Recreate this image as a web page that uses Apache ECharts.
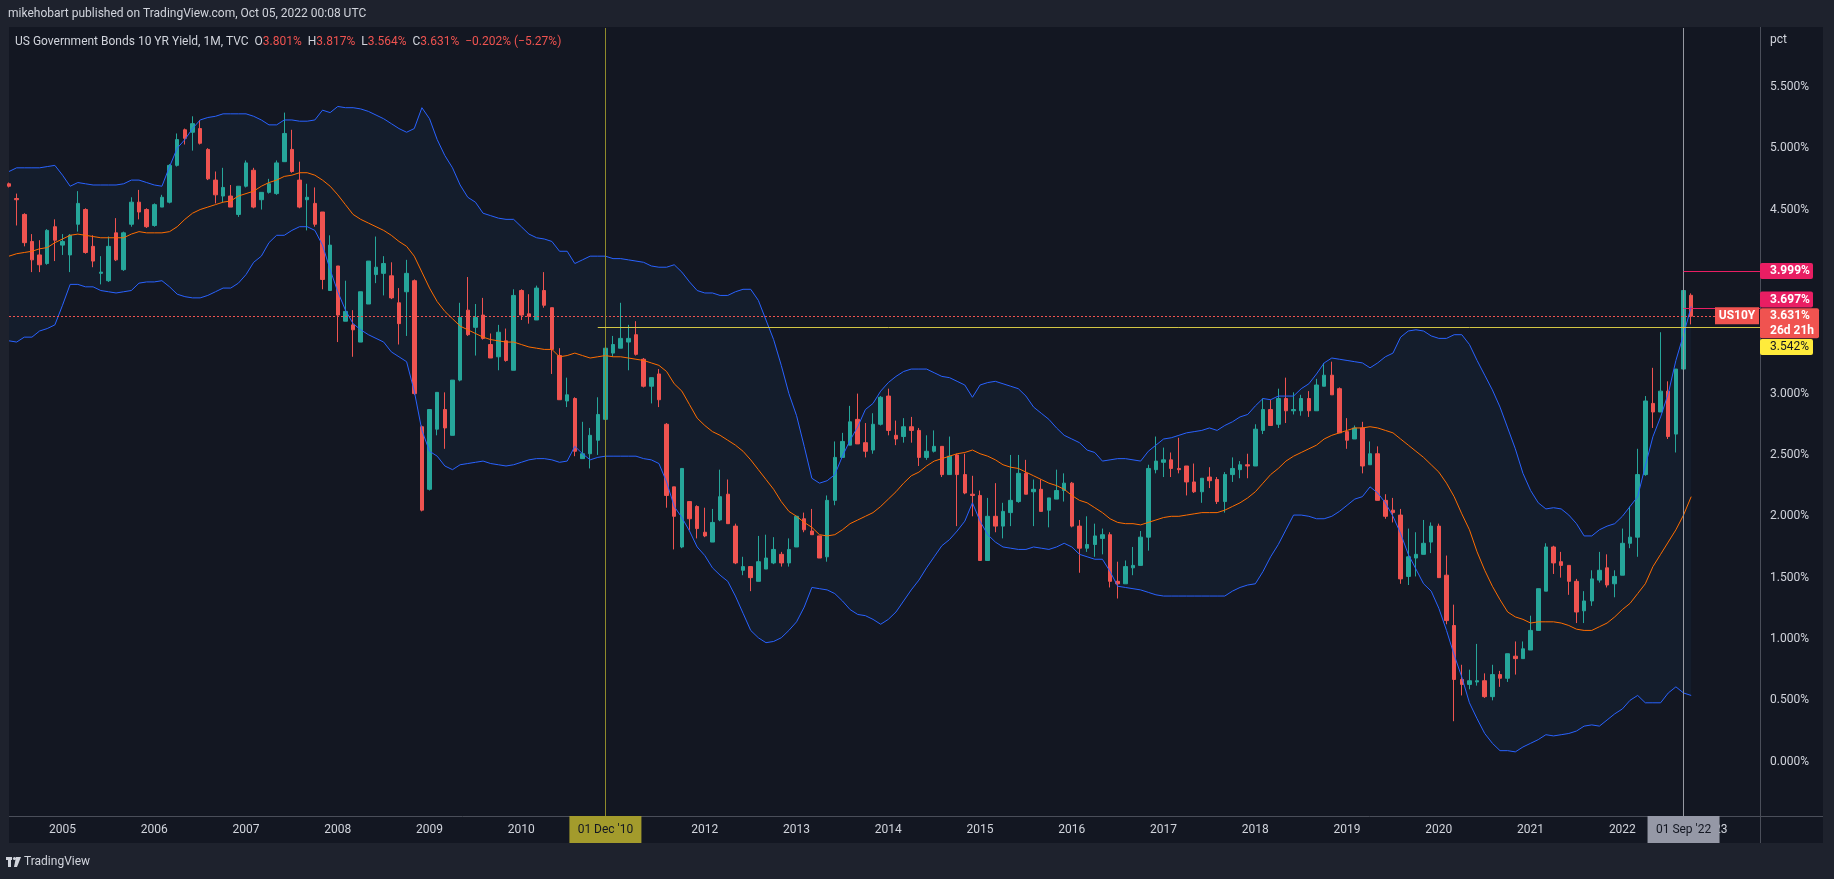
<!DOCTYPE html>
<html>
<head>
<meta charset="utf-8">
<title>US10Y monthly</title>
<script src="https://cdn.jsdelivr.net/npm/echarts@6/dist/echarts.min.js"></script>
<style>
html, body { margin: 0; padding: 0; background: #1e222d; }
#main { width: 1834px; height: 879px; }
</style>
</head>
<body>
<div id="main"></div>
<script>
// monthly candles, Jun 2004 .. Oct 2022 (values in percent)
var opens = [4.71,4.59,4.46,4.24,4.13,4.06,4.36,4.21,4.13,4.38,4.50,4.20,3.98,3.92,4.31,4.01,4.38,4.56,4.50,4.37,
  4.52,4.56,4.86,5.15,5.13,5.16,4.99,4.74,4.61,4.61,4.46,4.69,4.82,4.58,4.64,4.63,4.89,4.99,4.74,4.58,
  4.55,4.48,3.84,4.04,3.59,3.56,3.42,3.73,3.97,3.98,3.96,3.74,3.83,3.92,2.73,2.22,2.71,2.87,2.66,3.11,
  3.68,3.54,3.64,3.40,3.30,3.43,3.19,3.84,3.65,3.60,3.84,3.70,3.31,2.94,2.96,2.47,2.51,2.62,2.79,3.33,
  3.37,3.42,3.48,3.28,3.06,3.16,2.75,2.24,1.75,2.12,2.08,1.87,1.79,1.97,2.18,1.92,1.56,1.59,1.47,1.57,
  1.62,1.69,1.62,1.75,1.98,1.88,1.84,1.67,2.13,2.48,2.58,2.79,2.60,2.54,2.75,2.98,2.66,2.65,2.73,2.70,
  2.48,2.53,2.57,2.34,2.50,2.34,2.18,2.17,1.64,2.00,1.92,2.03,2.12,2.35,2.20,2.22,2.05,2.14,2.21,2.27,
  1.92,1.74,1.77,1.82,1.85,1.47,1.45,1.58,1.60,1.83,2.38,2.44,2.46,2.39,2.41,2.28,2.20,2.32,2.30,2.12,
  2.34,2.38,2.42,2.41,2.70,2.87,2.75,2.96,2.86,2.86,2.96,2.86,3.06,3.15,3.04,2.69,2.63,2.72,2.42,2.51,
  2.13,2.05,2.01,1.51,1.66,1.69,1.79,1.92,1.52,1.11,0.67,0.63,0.65,0.66,0.53,0.71,0.68,0.86,0.84,0.91,
  1.07,1.39,1.75,1.63,1.60,1.47,1.23,1.31,1.48,1.58,1.45,1.52,1.78,1.83,2.34,2.92,2.85,3.02,2.67,3.20,
  3.801];
var highs = [4.72,4.63,4.47,4.30,4.25,4.34,4.42,4.30,4.30,4.65,4.51,4.29,4.12,4.28,4.43,4.32,4.60,4.66,4.51,4.55,
  4.62,4.87,5.12,5.16,5.26,5.23,5.00,4.81,4.84,4.70,4.69,4.90,4.84,4.64,4.75,4.90,5.29,5.15,4.89,4.71,
  4.68,4.48,4.29,4.04,3.92,3.68,3.83,4.08,4.28,4.12,4.07,3.86,4.09,3.93,2.74,2.87,3.01,3.01,3.11,3.74,
  3.95,3.73,3.78,3.49,3.56,3.53,3.85,3.85,3.81,3.88,3.99,3.70,3.37,3.13,2.97,2.77,2.72,2.97,3.55,3.47,
  3.74,3.56,3.59,3.29,3.13,3.20,2.76,2.24,2.39,2.12,2.09,2.07,2.06,2.38,2.30,1.94,1.67,1.59,1.84,1.85,
  1.83,1.71,1.82,2.00,2.03,2.06,1.84,2.17,2.61,2.68,2.90,3.00,2.76,2.84,2.98,3.04,2.78,2.80,2.81,2.72,
  2.66,2.70,2.57,2.65,2.51,2.51,2.33,2.21,2.15,2.27,2.11,2.50,2.50,2.46,2.30,2.30,2.15,2.38,2.35,2.28,
  1.97,2.00,1.94,1.90,1.87,1.63,1.64,1.75,1.88,2.42,2.65,2.56,2.52,2.64,2.41,2.43,2.31,2.40,2.32,2.36,
  2.48,2.45,2.51,2.75,2.96,2.95,3.04,3.13,3.01,2.99,3.02,3.12,3.25,3.26,3.05,2.80,2.74,2.77,2.61,2.57,
  2.18,2.15,2.06,1.90,1.87,1.97,1.95,1.94,1.68,1.28,0.79,0.75,0.96,0.72,0.79,0.74,0.88,0.98,0.98,1.19,
  1.41,1.78,1.76,1.71,1.60,1.49,1.39,1.56,1.71,1.69,1.56,1.90,2.08,2.55,2.98,3.21,3.50,3.10,3.20,3.999,
  3.817];
var lows = [4.68,4.37,4.20,3.99,3.99,4.05,4.08,4.13,3.99,4.32,4.14,4.03,3.89,3.91,4.08,4.00,4.36,4.42,4.35,4.36,
  4.52,4.55,4.85,5.03,4.98,5.03,4.74,4.55,4.56,4.52,4.44,4.68,4.51,4.50,4.63,4.62,4.89,4.80,4.51,4.33,
  4.36,3.85,3.84,3.42,3.59,3.30,3.42,3.73,3.90,3.80,3.77,3.40,3.47,2.99,2.04,2.21,2.66,2.55,2.66,3.10,
  3.47,3.31,3.44,3.29,3.19,3.26,3.19,3.60,3.57,3.60,3.70,3.16,2.95,2.89,2.49,2.47,2.39,2.50,2.79,3.30,
  3.37,3.19,3.31,3.05,2.92,2.89,2.07,1.73,1.74,1.89,1.82,1.83,1.79,1.96,1.94,1.61,1.52,1.39,1.47,1.57,
  1.61,1.59,1.59,1.75,1.87,1.85,1.66,1.63,2.09,2.48,2.58,2.59,2.48,2.51,2.74,2.66,2.58,2.60,2.60,2.41,
  2.46,2.52,2.32,2.34,1.92,2.18,2.00,1.64,1.64,1.87,1.82,1.92,2.11,2.18,1.92,2.04,1.91,2.14,2.12,1.91,
  1.54,1.71,1.67,1.69,1.42,1.33,1.45,1.52,1.60,1.72,2.35,2.32,2.32,2.35,2.17,2.19,2.11,2.23,2.10,2.03,
  2.28,2.31,2.31,2.41,2.67,2.74,2.72,2.76,2.83,2.82,2.81,2.86,3.06,2.99,2.68,2.55,2.63,2.35,2.42,2.13,
  1.98,1.95,1.45,1.44,1.51,1.69,1.70,1.50,1.12,0.33,0.54,0.59,0.62,0.52,0.50,0.61,0.65,0.71,0.84,0.91,
  1.07,1.39,1.53,1.50,1.36,1.13,1.13,1.27,1.46,1.42,1.34,1.52,1.74,1.67,2.33,2.72,2.85,2.63,2.52,3.20,
  3.564];
var closes = [4.69,4.58,4.23,4.09,4.05,4.33,4.25,4.24,4.29,4.55,4.15,4.08,3.99,4.20,4.09,4.31,4.56,4.48,4.36,4.54,
  4.60,4.86,5.07,5.08,5.20,5.04,4.75,4.62,4.68,4.52,4.69,4.88,4.52,4.64,4.71,4.88,5.12,4.81,4.52,4.60,
  4.38,3.93,4.21,3.64,3.67,3.52,3.83,4.08,4.03,4.06,3.78,3.57,3.98,3.00,2.05,2.87,3.01,2.72,3.11,3.62,
  3.48,3.62,3.45,3.29,3.50,3.27,3.80,3.64,3.63,3.86,3.72,3.36,2.95,2.99,2.53,2.51,2.66,2.83,3.37,3.40,
  3.45,3.45,3.32,3.06,3.13,2.95,2.17,2.00,2.39,1.98,1.90,1.84,1.95,2.16,1.94,1.62,1.59,1.50,1.63,1.66,
  1.73,1.62,1.73,2.00,1.89,1.85,1.66,2.13,2.48,2.61,2.77,2.59,2.53,2.75,2.97,2.70,2.63,2.73,2.70,2.48,
  2.53,2.57,2.34,2.49,2.34,2.19,2.17,1.64,2.00,1.92,2.04,2.13,2.35,2.18,2.22,2.04,2.15,2.21,2.27,1.92,
  1.74,1.77,1.84,1.85,1.47,1.45,1.59,1.60,1.83,2.39,2.45,2.46,2.39,2.38,2.28,2.20,2.31,2.29,2.12,2.34,
  2.39,2.42,2.41,2.71,2.87,2.74,2.96,2.86,2.87,2.96,2.86,3.07,3.15,2.99,2.68,2.62,2.72,2.41,2.51,2.13,
  2.00,2.03,1.49,1.67,1.69,1.78,1.92,1.50,1.15,0.67,0.63,0.66,0.66,0.53,0.71,0.68,0.88,0.84,0.92,1.07,
  1.41,1.75,1.62,1.60,1.47,1.22,1.31,1.49,1.56,1.44,1.51,1.78,1.83,2.34,2.94,2.85,3.02,2.65,3.20,3.84,
  3.631];

// Bollinger bands (20, 2) as drawn
var bbUpper = [4.81,4.84,4.84,4.84,4.84,4.85,4.86,4.78,4.69,4.72,4.71,4.70,4.70,4.70,4.70,4.71,4.74,4.74,4.72,4.70,
  4.69,4.85,5.00,5.07,5.16,5.23,5.25,5.26,5.28,5.28,5.28,5.28,5.26,5.23,5.19,5.19,5.23,5.23,5.22,5.22,
  5.23,5.31,5.29,5.34,5.33,5.33,5.32,5.30,5.27,5.24,5.20,5.16,5.13,5.16,5.33,5.24,5.07,4.94,4.84,4.70,
  4.60,4.56,4.47,4.45,4.43,4.42,4.42,4.36,4.30,4.27,4.26,4.24,4.16,4.16,4.06,4.09,4.12,4.12,4.12,4.10,
  4.10,4.09,4.08,4.07,4.04,4.03,4.03,4.05,3.99,3.91,3.84,3.82,3.82,3.80,3.80,3.83,3.85,3.85,3.76,3.60,
  3.44,3.23,3.00,2.82,2.57,2.31,2.27,2.29,2.34,2.49,2.62,2.73,2.87,2.92,3.02,3.09,3.14,3.18,3.20,3.20,
  3.20,3.17,3.14,3.13,3.10,3.07,2.97,3.07,3.09,3.10,3.08,3.06,3.04,2.98,2.89,2.84,2.79,2.72,2.66,2.63,
  2.60,2.54,2.52,2.45,2.46,2.47,2.47,2.46,2.45,2.53,2.58,2.63,2.64,2.66,2.68,2.69,2.70,2.72,2.70,2.74,
  2.77,2.81,2.83,2.90,2.96,2.95,2.98,2.98,2.98,3.04,3.08,3.16,3.25,3.29,3.28,3.27,3.26,3.25,3.21,3.25,
  3.30,3.33,3.46,3.51,3.52,3.51,3.47,3.45,3.45,3.48,3.48,3.40,3.27,3.15,3.03,2.89,2.72,2.55,2.35,2.21,
  2.11,2.06,2.07,2.06,2.01,1.94,1.84,1.84,1.89,1.92,1.94,2.00,2.08,2.16,2.41,2.65,2.81,3.00,3.27,3.48,
  3.71];
var bbBasis = [4.12,4.14,4.15,4.16,4.18,4.19,4.23,4.26,4.29,4.30,4.29,4.28,4.27,4.27,4.27,4.27,4.30,4.32,4.31,4.31,
  4.31,4.32,4.36,4.42,4.47,4.50,4.52,4.54,4.56,4.57,4.61,4.63,4.65,4.69,4.72,4.74,4.77,4.78,4.80,4.80,
  4.78,4.74,4.69,4.62,4.54,4.46,4.42,4.39,4.36,4.33,4.29,4.24,4.20,4.12,3.99,3.86,3.75,3.67,3.61,3.55,
  3.52,3.49,3.46,3.44,3.43,3.42,3.42,3.40,3.38,3.37,3.36,3.36,3.30,3.31,3.33,3.31,3.29,3.30,3.31,3.30,
  3.30,3.29,3.28,3.27,3.25,3.23,3.18,3.08,3.02,2.91,2.80,2.74,2.69,2.66,2.62,2.58,2.53,2.46,2.38,2.30,
  2.22,2.12,2.04,2.00,1.95,1.91,1.85,1.84,1.85,1.89,1.94,1.97,2.00,2.03,2.08,2.14,2.20,2.27,2.33,2.36,
  2.41,2.45,2.47,2.49,2.51,2.52,2.54,2.51,2.49,2.46,2.42,2.40,2.39,2.36,2.33,2.30,2.27,2.25,2.22,2.17,
  2.13,2.11,2.07,2.03,1.98,1.95,1.94,1.94,1.93,1.95,1.97,1.99,2.00,2.00,2.01,2.02,2.03,2.03,2.03,2.05,
  2.08,2.11,2.15,2.20,2.27,2.34,2.39,2.45,2.49,2.52,2.55,2.58,2.63,2.66,2.68,2.70,2.72,2.72,2.73,2.72,
  2.70,2.68,2.63,2.58,2.53,2.48,2.42,2.36,2.27,2.16,2.02,1.89,1.71,1.56,1.43,1.32,1.22,1.18,1.16,1.13,
  1.14,1.14,1.14,1.13,1.11,1.08,1.07,1.07,1.10,1.13,1.18,1.24,1.29,1.37,1.45,1.59,1.69,1.79,1.89,2.01,
  2.16];
var bbLower = [3.43,3.42,3.46,3.46,3.51,3.53,3.56,3.72,3.89,3.89,3.87,3.87,3.84,3.83,3.82,3.83,3.84,3.90,3.91,3.91,
  3.92,3.87,3.81,3.79,3.78,3.78,3.80,3.83,3.86,3.86,3.90,3.97,4.07,4.12,4.23,4.29,4.29,4.33,4.36,4.36,
  4.33,4.21,4.01,3.83,3.68,3.57,3.52,3.48,3.45,3.42,3.34,3.30,3.26,3.02,2.70,2.53,2.49,2.41,2.38,2.42,
  2.43,2.44,2.45,2.43,2.42,2.41,2.42,2.44,2.46,2.47,2.47,2.46,2.44,2.45,2.57,2.51,2.46,2.48,2.49,2.49,
  2.49,2.49,2.49,2.47,2.46,2.43,2.28,2.08,1.99,1.88,1.75,1.68,1.58,1.52,1.47,1.35,1.21,1.07,1.01,0.97,
  0.98,1.01,1.07,1.14,1.26,1.42,1.41,1.40,1.37,1.31,1.24,1.20,1.19,1.16,1.12,1.16,1.22,1.31,1.40,1.48,
  1.58,1.67,1.76,1.81,1.88,1.96,2.11,1.96,1.85,1.79,1.75,1.74,1.73,1.73,1.75,1.74,1.73,1.75,1.78,1.75,
  1.69,1.67,1.65,1.65,1.55,1.43,1.42,1.41,1.40,1.38,1.36,1.35,1.35,1.35,1.35,1.35,1.35,1.35,1.35,1.35,
  1.39,1.42,1.44,1.45,1.55,1.67,1.77,1.89,2.01,2.01,2.00,1.98,1.98,2.00,2.04,2.09,2.14,2.16,2.24,2.19,
  2.11,2.00,1.86,1.69,1.57,1.45,1.39,1.25,1.07,0.87,0.69,0.48,0.35,0.23,0.15,0.09,0.09,0.08,0.12,0.15,
  0.18,0.22,0.21,0.22,0.23,0.25,0.29,0.30,0.29,0.34,0.39,0.43,0.50,0.54,0.48,0.48,0.48,0.56,0.61,0.56,
  0.54];

var priceTicks = [0, 0.5, 1, 1.5, 2, 2.5, 3, 3.5, 4, 4.5, 5, 5.5];
var lastClose = 3.631;
var lineLevel = 3.542;     // yellow horizontal
var sepHigh = 3.999;       // Sep '22 high
var midLevel = 3.697;

// month categories; they run on past the last candle to fill the right margin
var months = [];
for (var k = 0; k < 230; k++) {
  var yy = 2004 + Math.floor((5 + k) / 12);
  var mm = (5 + k) % 12 + 1;
  months.push(yy + '-' + (mm < 10 ? '0' + mm : mm));
}
var candles = opens.map(function (o, i) { return [o, closes[i], lows[i], highs[i]]; });

var FONT = 'Roboto, "Liberation Sans", sans-serif';
var gridL = 9, gridR = 1760, gridT = 28, gridB = 816;

var myecharts = echarts.init(document.getElementById('main'));
var option = {
  backgroundColor: '#1e222d',
  animation: false,
  textStyle: { fontFamily: FONT },
  grid: { left: gridL, right: 1834 - gridR, top: gridT, bottom: 879 - gridB, show: false },
  xAxis: {
    type: 'category',
    data: months,
    boundaryGap: false,
    axisLine: { show: false },
    axisTick: { show: false },
    splitLine: { show: false },
    axisLabel: {
      interval: function (idx, val) { return val.slice(5) === '01'; },
      formatter: function (val) { return val.slice(0, 4); },
      color: '#d1d4dc', fontSize: 12, margin: 8, fontFamily: FONT
    }
  },
  yAxis: {
    type: 'value',
    position: 'right',
    min: -0.4425,
    max: 5.9795,
    axisLine: { show: false },
    axisTick: { show: false },
    splitLine: { show: false },
    axisLabel: {
      customValues: priceTicks,
      formatter: function (v) { return v.toFixed(3) + '%'; },
      color: '#d1d4dc', fontSize: 12, margin: 10, align: 'left', fontFamily: FONT
    }
  },
  series: [
    {
      // shaded area between the bands
      type: 'custom',
      clip: true,
      silent: true,
      z: 1,
      data: [[0, 0]],
      renderItem: function (params, api) {
        var pts = [];
        for (var i = 0; i < bbUpper.length; i++) pts.push(api.coord([i, bbUpper[i]]));
        for (var j = bbLower.length - 1; j >= 0; j--) pts.push(api.coord([j, bbLower[j]]));
        return { type: 'polygon', shape: { points: pts }, style: { fill: 'rgba(33,150,243,0.05)' } };
      }
    },
    {
      type: 'candlestick',
      data: candles,
      barWidth: 4,
      z: 3,
      itemStyle: {
        color: '#26a69a', color0: '#ef5350',
        borderColor: '#26a69a', borderColor0: '#ef5350', borderWidth: 1
      },
      markLine: {
        silent: true,
        symbol: ['none', 'none'],
        label: { show: false },
        data: [
          { yAxis: lastClose, lineStyle: { color: '#f05350', type: [2, 2], width: 1 } },
          { xAxis: '2010-12', lineStyle: { color: '#8f8a2b', type: 'solid', width: 1 } },
          { xAxis: '2022-09', lineStyle: { color: '#9598a1', type: 'solid', width: 1 } },
          [
            { coord: ['2010-11', lineLevel], lineStyle: { color: '#d3c644', type: 'solid', width: 1 } },
            { coord: [months[months.length - 1], lineLevel], lineStyle: { color: '#d3c644', type: 'solid', width: 1 } }
          ],
          [
            { coord: ['2022-09', sepHigh], lineStyle: { color: '#e91e63', type: 'solid', width: 1 } },
            { coord: [months[months.length - 1], sepHigh], lineStyle: { color: '#e91e63', type: 'solid', width: 1 } }
          ],
          [
            { coord: ['2022-09', midLevel], lineStyle: { color: '#e91e63', type: 'solid', width: 1 } },
            { coord: [months[months.length - 1], midLevel], lineStyle: { color: '#e91e63', type: 'solid', width: 1 } }
          ]
        ]
      }
    },
    {
      name: 'Upper', type: 'line', data: bbUpper, showSymbol: false, z: 4,
      lineStyle: { color: '#2962ff', width: 1 }
    },
    {
      name: 'Basis', type: 'line', data: bbBasis, showSymbol: false, z: 4,
      lineStyle: { color: '#ff6d00', width: 1 }
    },
    {
      name: 'Lower', type: 'line', data: bbLower, showSymbol: false, z: 4,
      lineStyle: { color: '#2962ff', width: 1 }
    }
  ]
};
myecharts.setOption(option);

// tags and frame, placed from the axes
function yPx(v) { return myecharts.convertToPixel({ yAxisIndex: 0 }, v); }
function xPx(c) { return myecharts.convertToPixel({ xAxisIndex: 0 }, c); }

function priceTag(yTop, w, h, bg, fg, text, bold) {
  return {
    type: 'group', x: gridR, y: yTop, z: 100,
    children: [
      { type: 'rect', z: 100, shape: { x: 0, y: 0, width: w, height: h, r: 2 }, style: { fill: bg } },
      { type: 'text', z: 101, x: 10, y: h / 2,
        style: { text: text, fill: fg, font: (bold ? 'bold ' : '') + '12px ' + FONT, textVerticalAlign: 'middle', lineHeight: 15 } }
    ]
  };
}
function dateTag(cx, bg, text) {
  return {
    type: 'group', x: cx - 36, y: gridB, z: 100,
    children: [
      { type: 'rect', z: 100, shape: { x: 0, y: 0, width: 72, height: 27 }, style: { fill: bg } },
      { type: 'text', z: 101, x: 36, y: 14,
        style: { text: text, fill: '#131722', font: '12px ' + FONT, textAlign: 'center', textVerticalAlign: 'middle' } }
    ]
  };
}

var yClose = yPx(lastClose);
var graphics = [
  { type: 'rect', z: -10, shape: { x: 9, y: 27, width: 1814, height: 816 }, style: { fill: '#131722' } },
  { type: 'line', z: 50, shape: { x1: gridR + 0.5, y1: 27, x2: gridR + 0.5, y2: 843 }, style: { stroke: '#4a4e59', lineWidth: 1 } },
  { type: 'line', z: 50, shape: { x1: 9, y1: gridB + 0.5, x2: 1823, y2: gridB + 0.5 }, style: { stroke: '#4a4e59', lineWidth: 1 } },
  { type: 'text', x: 8, y: 14, z: 50,
    style: { text: 'mikehobart published on TradingView.com, Oct 05, 2022 00:08 UTC', fill: '#d1d4dc',
      font: '12px ' + FONT, textVerticalAlign: 'middle' } },
  { type: 'text', x: 15, y: 42, z: 50,
    style: {
      text: '{t|US Government Bonds 10 YR Yield, 1M, TVC  }{k|O}{v|3.801%  }{k|H}{v|3.817%  }{k|L}{v|3.564%  }{k|C}{v|3.631%  }{v|\u22120.202% (\u22125.27%)}',
      textVerticalAlign: 'middle',
      rich: {
        t: { fill: '#d1d4dc', font: '12px ' + FONT },
        k: { fill: '#d1d4dc', font: '12px ' + FONT },
        v: { fill: '#ef5350', font: '12px ' + FONT }
      }
    } },
  { type: 'text', x: 1770, y: 40, z: 50,
    style: { text: 'pct', fill: '#d1d4dc', font: '12px ' + FONT, textVerticalAlign: 'middle' } },
  // bottom logo
  { type: 'group', x: 6, y: 855, z: 50, children: [
    { type: 'rect', shape: { x: 0, y: 2, width: 6, height: 3 }, style: { fill: '#d1d4dc' } },
    { type: 'rect', shape: { x: 2, y: 2, width: 3, height: 10 }, style: { fill: '#d1d4dc' } },
    { type: 'circle', shape: { cx: 8.5, cy: 3.5, r: 1.6 }, style: { fill: '#d1d4dc' } },
    { type: 'polygon', shape: { points: [[10, 2], [15, 2], [11, 12], [8, 12]] }, style: { fill: '#d1d4dc' } },
    { type: 'text', x: 18, y: 7, style: { text: 'TradingView', fill: '#d1d4dc', font: '12px ' + FONT, textVerticalAlign: 'middle' } }
  ] },
  dateTag(xPx('2010-12'), '#a39b2c', "01 Dec '10"),
  dateTag(xPx('2022-09'), '#9598a6', "01 Sep '22"),
  priceTag(yPx(sepHigh) - 8, 53, 16, '#e91e63', '#ffffff', '3.999%', true),
  priceTag(yPx(midLevel) - 16.5, 53, 16, '#e91e63', '#ffffff', '3.697%', true),
  priceTag(yClose - 8, 59, 30, '#f05350', '#ffffff', '3.631%\n26d 21h', true),
  priceTag(yPx(lineLevel) + 12, 53, 16, '#ffeb3b', '#131722', '3.542%', false),
  { type: 'group', x: gridR - 45, y: yClose - 9, z: 100, children: [
    { type: 'rect', z: 100, shape: { x: 0, y: 0, width: 44, height: 17 }, style: { fill: '#f05350' } },
    { type: 'text', z: 101, x: 22, y: 9,
      style: { text: 'US10Y', fill: '#ffffff', font: 'bold 12px ' + FONT, textAlign: 'center', textVerticalAlign: 'middle' } }
  ] }
];
myecharts.setOption({ graphic: graphics });
</script>
</body>
</html>
